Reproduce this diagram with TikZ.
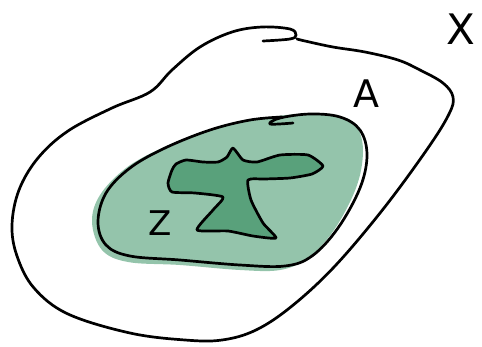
\documentclass[tikz,border=0pt]{standalone}
\usepackage{fontspec}
\setsansfont{DejaVu Sans}
\definecolor{lightgreen}{RGB}{148,196,171}
\definecolor{darkgreen}{RGB}{89,161,123}
\begin{document}
\begin{tikzpicture}[x=1pt,y=-1pt,
	pen/.style={line width=2.7pt, line cap=round, line join=round},
	letter/.style={font=\sffamily\fontsize{#1}{#1}\selectfont, inner sep=0pt}]
	\useasboundingbox (0,0) rectangle (482,346);
	% space X
	\draw[pen] plot[smooth, tension=0.6] coordinates {(263,41) (290,39) (296,35) (290,29) (262,27) (232,32) (200,47) (172,70) (150,92) (112,108) (68,131) (38,158) (19,190) (12,225) (17,256) (34,288) (68,314) (130,333) (185,340) (222,340) (256,330) (292,306) (335,266) (384,208) (428,148) (449,114) (453,97) (443,83) (420,70) (398,60) (365,52) (333,47) (305,41) (297,39)};
	\node[letter=42] (labX) at (461,29) {X};
	% set A
	\fill[lightgreen] plot[smooth cycle, tension=0.6] coordinates {(250,120) (300,114) (340,116) (357,127) (363,152) (356,188) (334,230) (308,258) (280,270) (240,270) (180,265) (128,262) (102,250) (92,222) (100,195) (126,168) (162,148) (208,130)};
	\draw[pen] plot[smooth, tension=0.6] coordinates {(293,123) (270,124) (280,118) (310,114) (340,117) (360,130) (367,155) (360,188) (338,228) (312,256) (285,266) (240,265) (180,260) (130,256) (106,245) (98,222) (106,193) (130,168) (165,148) (210,130) (250,120) (282,117)};
	\node[letter=38] (labA) at (366,94) {A};
	% set Z
	\filldraw[pen, fill=darkgreen] plot[smooth cycle, tension=0.35] coordinates {(227,157) (233,148) (243,160) (257,162) (280,155) (308,155) (323,166) (312,174) (290,178) (265,179) (248,180) (251,200) (263,223) (276,238) (253,236) (228,231) (197,230) (213,210) (223,197) (195,193) (172,192) (168,183) (172,170) (176,164) (186,160) (203,162) (218,162)};
	\node[letter=34] (labZ) at (160,223) {Z};
\end{tikzpicture}
\end{document}
